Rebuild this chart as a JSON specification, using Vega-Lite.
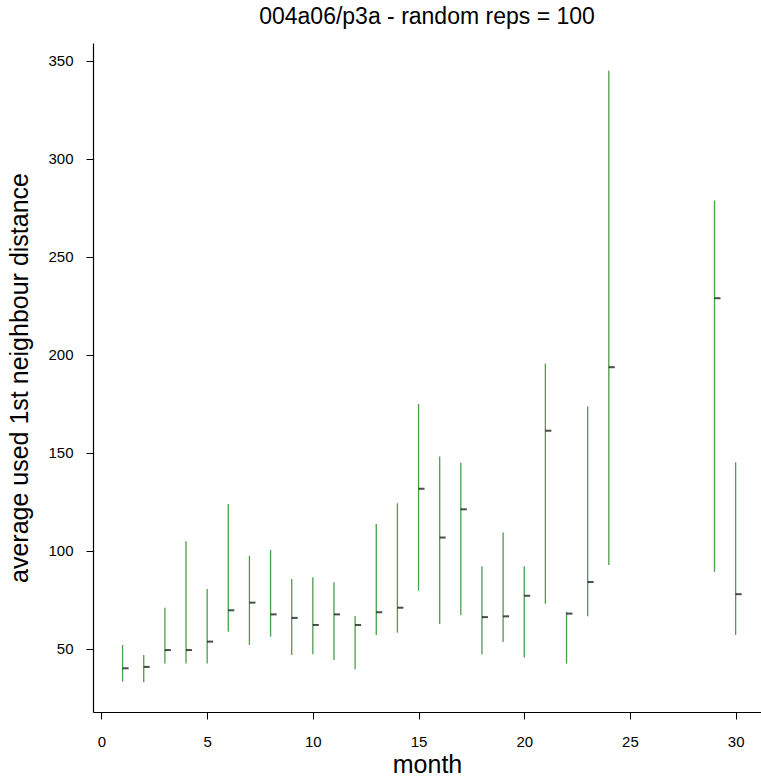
{
  "$schema": "https://vega.github.io/schema/vega-lite/v6.json",
  "autosize": {"type": "none"},
  "padding": {"left": 93, "top": 43, "right": 0, "bottom": 66},
  "width": 668,
  "height": 669,
  "background": "white",
  "config": {
    "view": {"stroke": null},
    "font": "Liberation Sans",
    "axis": {
      "domainColor": "black",
      "domainWidth": 1.2,
      "tickColor": "black",
      "tickSize": 7,
      "labelColor": "black",
      "titleColor": "black",
      "labelFont": "Liberation Sans",
      "titleFont": "Liberation Sans",
      "labelFontSize": 15,
      "titleFontSize": 25,
      "titleFontWeight": "normal",
      "grid": false
    }
  },
  "title": {
    "text": "004a06/p3a - random reps = 100",
    "font": "Liberation Sans",
    "fontSize": 23,
    "fontWeight": "normal",
    "color": "black",
    "anchor": "middle",
    "offset": 14
  },
  "data": {
    "values": [
      {"month": 1, "low": 33.2, "high": 51.9, "mean": 40.0},
      {"month": 2, "low": 32.9, "high": 46.8, "mean": 40.7},
      {"month": 3, "low": 42.5, "high": 70.9, "mean": 49.3},
      {"month": 4, "low": 42.5, "high": 104.8, "mean": 49.3},
      {"month": 5, "low": 42.5, "high": 80.5, "mean": 53.6},
      {"month": 6, "low": 58.7, "high": 123.8, "mean": 69.6},
      {"month": 7, "low": 51.9, "high": 97.4, "mean": 73.5},
      {"month": 8, "low": 56.1, "high": 100.4, "mean": 67.5},
      {"month": 9, "low": 46.8, "high": 85.6, "mean": 65.7},
      {"month": 10, "low": 47.1, "high": 86.4, "mean": 62.1},
      {"month": 11, "low": 44.2, "high": 83.9, "mean": 67.5},
      {"month": 12, "low": 39.5, "high": 66.7, "mean": 62.1},
      {"month": 13, "low": 57.0, "high": 113.6, "mean": 68.6},
      {"month": 14, "low": 58.2, "high": 124.2, "mean": 70.9},
      {"month": 15, "low": 79.6, "high": 174.8, "mean": 131.6},
      {"month": 16, "low": 62.6, "high": 148.0, "mean": 106.7},
      {"month": 17, "low": 67.0, "high": 144.8, "mean": 121.1},
      {"month": 18, "low": 47.0, "high": 92.0, "mean": 66.1},
      {"month": 19, "low": 53.4, "high": 109.3, "mean": 66.5},
      {"month": 20, "low": 45.5, "high": 92.0, "mean": 77.0},
      {"month": 21, "low": 72.9, "high": 195.5, "mean": 161.2},
      {"month": 22, "low": 42.4, "high": 68.8, "mean": 67.9},
      {"month": 23, "low": 66.5, "high": 173.6, "mean": 84.0},
      {"month": 24, "low": 92.7, "high": 344.9, "mean": 193.6},
      {"month": 29, "low": 89.3, "high": 278.6, "mean": 228.8},
      {"month": 30, "low": 57.0, "high": 145.1, "mean": 77.8}
    ]
  },
  "encoding": {
    "x": {
      "field": "month",
      "type": "quantitative",
      "scale": {"domain": [-0.4, 31.2], "nice": false, "zero": false},
      "axis": {
        "values": [0, 5, 10, 15, 20, 25, 30],
        "title": "month",
        "labelPadding": 15,
        "titlePadding": 3,
        "labelFlush": false
      }
    }
  },
  "layer": [
    {
      "mark": {"type": "rule", "color": "#4a9d4a", "strokeWidth": 1.3},
      "encoding": {
        "y": {
          "field": "low",
          "type": "quantitative",
          "scale": {"domain": [17.7, 359], "nice": false, "zero": false},
          "axis": {
            "values": [50, 100, 150, 200, 250, 300, 350],
            "title": "average used 1st neighbour distance",
            "labelPadding": 13,
            "titlePadding": 15,
            "labelFlush": false
          }
        },
        "y2": {"field": "high"}
      }
    },
    {
      "mark": {"type": "tick", "orient": "horizontal", "color": "black", "size": 6, "thickness": 2, "xOffset": 3},
      "encoding": {
        "y": {"field": "mean", "type": "quantitative"}
      }
    }
  ]
}
